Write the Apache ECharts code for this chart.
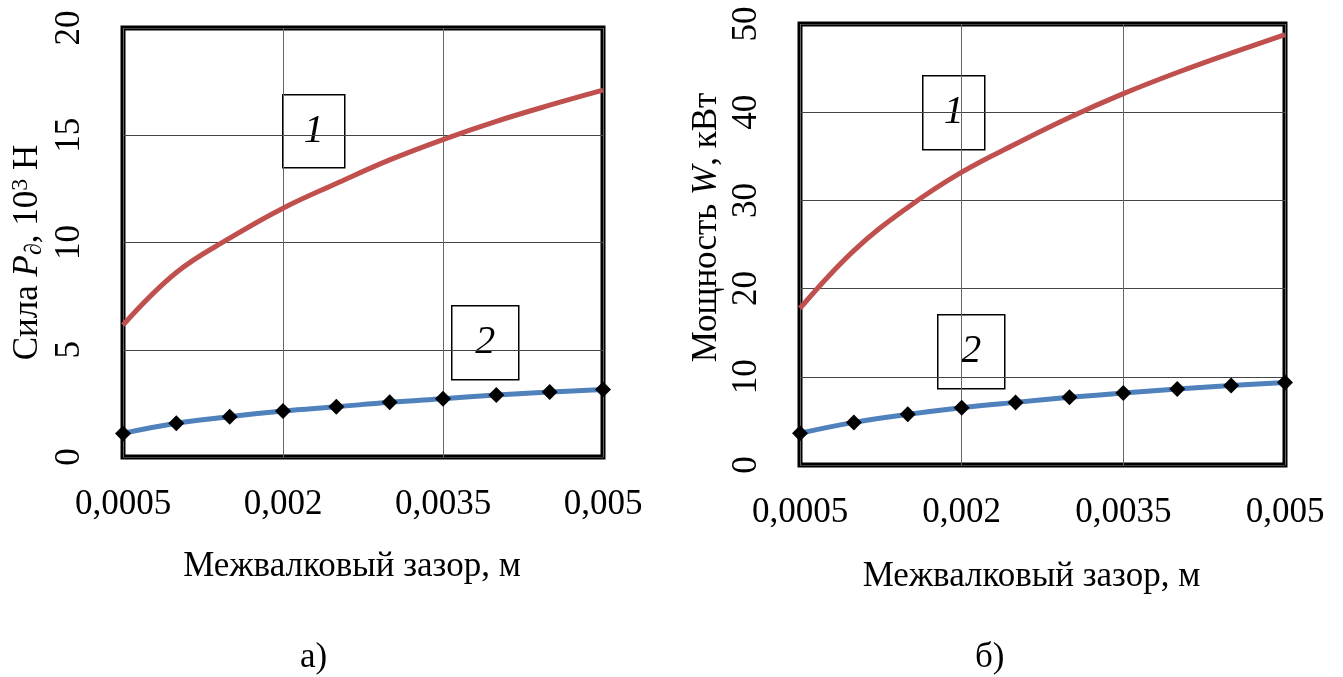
<!DOCTYPE html>
<html>
<head>
<meta charset="utf-8">
<script src="https://cdn.jsdelivr.net/npm/echarts@6/dist/echarts.min.js"></script>
<style>html,body{margin:0;padding:0;background:#fff;}#c{width:1343px;height:677px;}</style>
</head>
<body>
<div id="c"></div>
<script>
// Data
const xCategories = ['0,0005','0,001','0,0015','0,002','0,0025','0,003','0,0035','0,004','0,0045','0,005'];
const forceCurve1 = [6.15, 8.6, 10.2, 11.6, 12.75, 13.85, 14.8, 15.65, 16.4, 17.1];
const forceCurve2 = [1.1, 1.57, 1.88, 2.14, 2.34, 2.55, 2.72, 2.89, 3.03, 3.15];
const powerCurve1 = [17.75, 24.3, 29.2, 33.2, 36.4, 39.4, 42.1, 44.5, 46.7, 48.8];
const powerCurve2 = [3.6, 4.83, 5.74, 6.49, 7.1, 7.67, 8.15, 8.61, 9.02, 9.36];
const forceTicks = {min: 0, max: 20, interval: 5};
const powerTicks = {min: 0, max: 50, interval: 10};

const FONT = 'Liberation Serif';
const RED = '#C0504D', BLUE = '#4F81BD';

function xAxisCfg(gi, gap) {
  return {
    gridIndex: gi, type: 'category', boundaryGap: false, data: xCategories,
    axisLine: {show: false}, axisTick: {show: false},
    axisLabel: {interval: 2, fontFamily: FONT, fontSize: 35, color: '#000', margin: 30},
    splitLine: {show: true, interval: 2, lineStyle: {color: '#666', width: 1}},
    name: 'Межвалковый зазор, м', nameLocation: 'middle', nameGap: gap,
    nameTextStyle: {fontFamily: FONT, fontSize: 35, color: '#000', padding: [0, 22, 0, 0]}
  };
}
function yAxisCfg(gi, t, name, rich, gap, pad) {
  return {
    gridIndex: gi, type: 'value', min: t.min, max: t.max, interval: t.interval,
    axisLine: {show: false}, axisTick: {show: false},
    axisLabel: {rotate: 90, fontFamily: FONT, fontSize: 35, color: '#000', margin: 36},
    splitLine: {show: true, lineStyle: {color: '#444', width: 1}},
    name: name, nameLocation: 'middle', nameRotate: 90, nameGap: gap,
    nameTextStyle: {fontFamily: FONT, fontSize: 35, color: '#000', padding: pad, rich: rich}
  };
}
const baseRich = {
  n: {fontFamily: FONT, fontSize: 35, color: '#000'},
  i: {fontFamily: FONT, fontSize: 35, fontStyle: 'italic', color: '#000'},
  sub: {fontFamily: FONT, fontSize: 24, fontStyle: 'italic', color: '#000', padding: [14, 0, 0, 0]},
  sup: {fontFamily: FONT, fontSize: 24, color: '#000', padding: [0, 0, 14, 0]}
};

function lineSeries(xi, data, color, markers) {
  return {
    type: 'line', xAxisIndex: xi, yAxisIndex: xi, data: data, smooth: 0.4,
    lineStyle: {color: color, width: 5},
    itemStyle: {color: '#000'},
    symbol: markers ? 'diamond' : 'none', symbolSize: 16, showSymbol: markers,
    z: markers ? 3 : 2, animation: false
  };
}

function box(x, y, w, h, label) {
  return {
    type: 'group', left: x, top: y, z: 10,
    children: [
      {type: 'rect', shape: {x: 0, y: 0, width: w, height: h},
       style: {fill: '#fff', stroke: '#000', lineWidth: 1.5}},
      {type: 'text', x: w / 2, y: h / 2,
       style: {text: label, fontFamily: FONT, fontSize: 40, fontStyle: 'italic', fill: '#000',
               align: 'center', verticalAlign: 'middle'}}
    ]
  };
}

const chart = echarts.init(document.getElementById('c'), null, {renderer: 'canvas'});
chart.setOption({
  backgroundColor: '#fff',
  animation: false,
  grid: [
    {left: 123, top: 28, width: 480, height: 429, show: true, borderColor: '#000', borderWidth: 5, backgroundColor: 'transparent'},
    {left: 800, top: 24, width: 485, height: 441, show: true, borderColor: '#000', borderWidth: 5, backgroundColor: 'transparent'}
  ],
  xAxis: [xAxisCfg(0, 92), xAxisCfg(1, 94)],
  yAxis: [
    yAxisCfg(0, forceTicks, '{n|Сила }{i|P}{sub|∂}{n|, 10}{sup|3}{n| Н}', baseRich, 76, [0, 20, 0, 0]),
    yAxisCfg(1, powerTicks, '{n|Мощность }{i|W}{n|, кВт}', baseRich, 76, [0, 0, 0, 34])
  ],
  series: [
    lineSeries(0, forceCurve1, RED, false),
    lineSeries(0, forceCurve2, BLUE, true),
    lineSeries(1, powerCurve1, RED, false),
    lineSeries(1, powerCurve2, BLUE, true)
  ],
  graphic: [
    box(282, 94, 62, 73, '1'),
    box(451, 305, 67, 74, '2'),
    box(922, 75, 62, 74, '1'),
    box(937, 314, 67, 74, '2'),
    {type: 'text', left: 300, top: 640, style: {text: 'а)', fontFamily: FONT, fontSize: 35, fill: '#000'}},
    {type: 'text', left: 975, top: 640, style: {text: 'б)', fontFamily: FONT, fontSize: 35, fill: '#000'}}
  ]
});
</script>
</body>
</html>
